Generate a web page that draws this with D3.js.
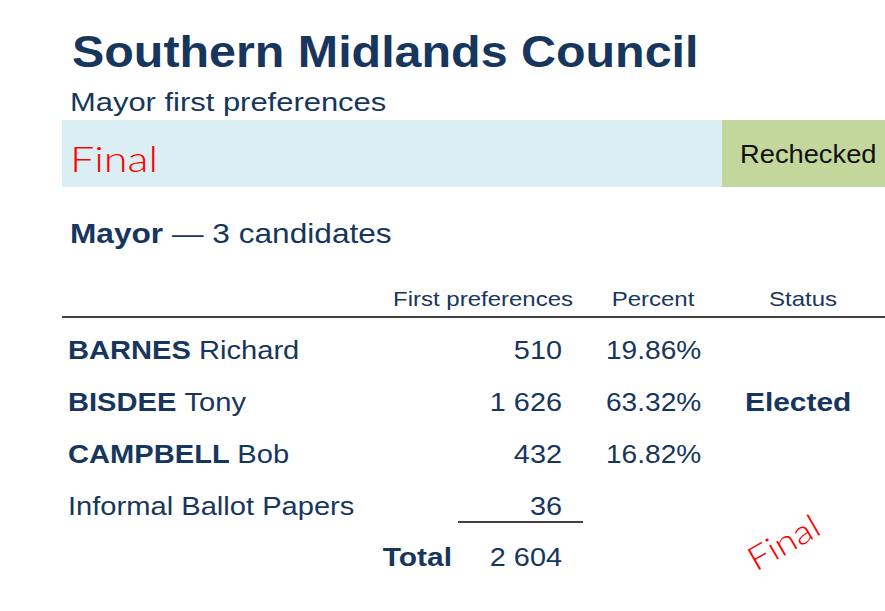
<!DOCTYPE html>
<html><head><meta charset="utf-8">
<script src="https://cdn.jsdelivr.net/npm/d3@7"></script>
<style>body{margin:0;background:#fff}svg{font-family:"Liberation Sans",Arial,sans-serif}</style>
</head><body><div id="chart"></div>
<script>
const surnames = ["BARNES", "BISDEE", "CAMPBELL"];
const givenNames = ["Richard", "Tony", "Bob"];
const votes = [510, 1626, 432];
const informal = 36;
const statuses = ["", "Elected", ""];
const headers = ["First preferences", "Percent", "Status"];

const width = 885, height = 611;
const navy = "#17365d";
const fmt = n => d3.format(",")(n).replace(/,/g, " ");
const formalTotal = d3.sum(votes);
const total = formalTotal + informal;

const svg = d3.select("#chart").append("svg").attr("width", width).attr("height", height);

// text stretched horizontally like the original
function txt(parent, x, y, size, sx, anchor) {
    return parent.append("g").attr("transform", `translate(${x},${y}) scale(${sx},1)`)
        .append("text").attr("font-size", size).attr("fill", navy)
        .attr("text-anchor", anchor || "start");
}

txt(svg, 72, 67, 44, 1.10).attr("font-weight", "bold").text("Southern Midlands Council");
txt(svg, 70, 111, 26, 1.19).text("Mayor first preferences");

svg.append("rect").attr("x", 62).attr("y", 120).attr("width", 660).attr("height", 67).attr("fill", "#daeef3");
svg.append("rect").attr("x", 722).attr("y", 120).attr("width", 163).attr("height", 67).attr("fill", "#c3d69b");
txt(svg, 70, 172, 36, 1.2).attr("fill", "red").attr("font-family", "Lato").attr("font-weight", 300).text("Final");
txt(svg, 740, 163, 26, 1.05).attr("fill", "#111").text("Rechecked");

const sub = txt(svg, 70, 243, 28, 1.13);
sub.append("tspan").attr("font-weight", "bold").text("Mayor");
sub.append("tspan").text(` — ${votes.length} candidates`);

const colX = d3.scaleOrdinal().domain(headers).range([483, 653, 803]);
headers.forEach(h => txt(svg, colX(h), 306, 20, 1.2, "middle").text(h));
svg.append("line").attr("x1", 62).attr("x2", 885).attr("y1", 317).attr("y2", 317)
    .attr("stroke", "#000").attr("stroke-width", 1.5);

const rows = surnames.map((s, i) => ({ s, g: givenNames[i], v: votes[i], st: statuses[i] }));
rows.push({ s: "", g: "Informal Ballot Papers", v: informal, st: "", informal: true });

const y = d3.scaleBand().domain(d3.range(rows.length)).range([324, 532]);
rows.forEach((d, i) => {
    const yy = y(i) + 35;
    const nm = txt(svg, 68, yy, 26, 1.12);
    if (d.s) nm.append("tspan").attr("font-weight", "bold").text(d.s + " ");
    nm.append("tspan").text(d.g);
    txt(svg, 562, yy, 26, 1.11, "end").text(fmt(d.v));
    if (!d.informal) txt(svg, 606, yy, 26, 1.08).text((d.v / formalTotal * 100).toFixed(2) + "%");
    if (d.st) txt(svg, 745, yy, 26, 1.15).attr("font-weight", "bold").text(d.st);
});

svg.append("line").attr("x1", 458).attr("x2", 583).attr("y1", 522).attr("y2", 522)
    .attr("stroke", "#000").attr("stroke-width", 1.5);
txt(svg, 452, 566, 26, 1.15, "end").attr("font-weight", "bold").text("Total");
txt(svg, 562, 566, 26, 1.11, "end").text(fmt(total));

svg.append("text").attr("transform", "translate(756,572) rotate(-30) scale(1.15,1)").attr("font-size", 33)
    .attr("font-family", "Lato").attr("font-weight", 300).attr("fill", "red").text("Final");
</script></body></html>
